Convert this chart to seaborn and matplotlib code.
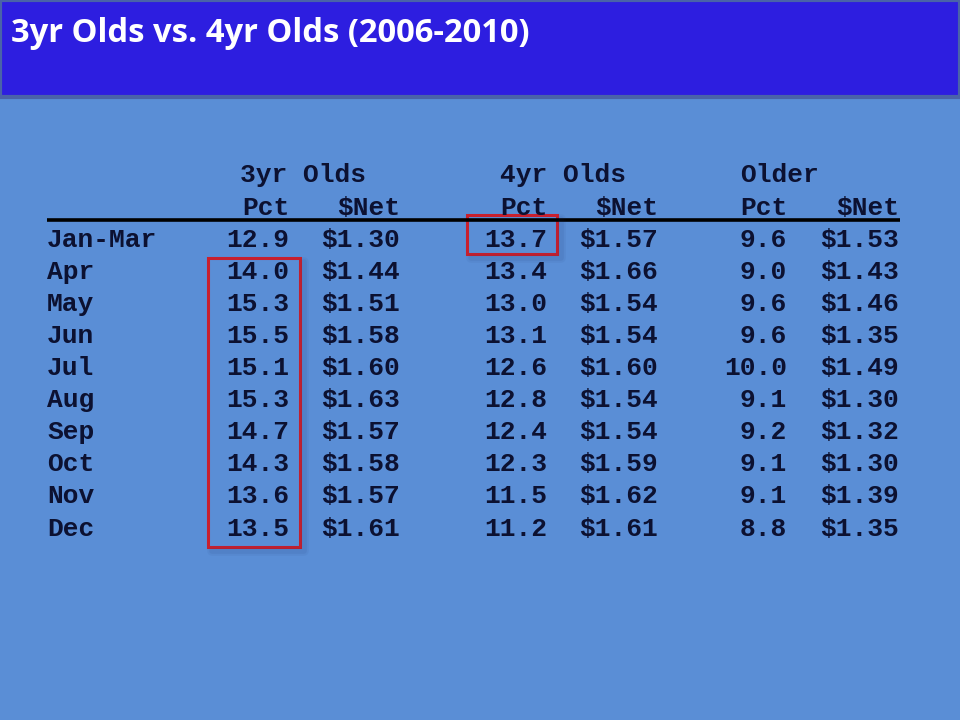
import matplotlib
matplotlib.use("Agg")
import matplotlib.pyplot as plt
from matplotlib.patches import Rectangle
import seaborn as sns
import pandas as pd

# ---- data ----
title = "3yr Olds vs. 4yr Olds (2006-2010)"
months = ["Jan-Mar", "Apr", "May", "Jun", "Jul", "Aug", "Sep", "Oct", "Nov", "Dec"]
groups = ["3yr Olds", "4yr Olds", "Older"]
subheads = ["Pct", "$Net"]
pct_3yr = [12.9, 14.0, 15.3, 15.5, 15.1, 15.3, 14.7, 14.3, 13.6, 13.5]
net_3yr = [1.30, 1.44, 1.51, 1.58, 1.60, 1.63, 1.57, 1.58, 1.57, 1.61]
pct_4yr = [13.7, 13.4, 13.0, 13.1, 12.6, 12.8, 12.4, 12.3, 11.5, 11.2]
net_4yr = [1.57, 1.66, 1.54, 1.54, 1.60, 1.54, 1.54, 1.59, 1.62, 1.61]
pct_older = [9.6, 9.0, 9.6, 9.6, 10.0, 9.1, 9.2, 9.1, 9.1, 8.8]
net_older = [1.53, 1.43, 1.46, 1.35, 1.49, 1.30, 1.32, 1.30, 1.39, 1.35]

df = pd.DataFrame({
    "Month": months,
    "3yr Pct": pct_3yr, "3yr Net": net_3yr,
    "4yr Pct": pct_4yr, "4yr Net": net_4yr,
    "Older Pct": pct_older, "Older Net": net_older,
})

# ---- style ----
sns.set_theme(style="white")
plt.rcParams["font.family"] = ["Liberation Mono", "DejaVu Sans Mono"]

BODY = "#5a8ed6"
BAR = "#2d1ee0"
INK = "#0c1131"
RED = "#c8202e"

fig = plt.figure(figsize=(9.6, 7.2), dpi=100)
fig.patch.set_facecolor(BODY)

# title bar
fig.patches.append(Rectangle((0.0, 1 - 97 / 720), 1.0, 97 / 720, transform=fig.transFigure,
                             facecolor=BAR, edgecolor="#4a63a8", linewidth=3, zorder=0))
fig.text(11 / 960, 1 - 42 / 720, title, color="white", fontsize=23.6, fontweight="bold",
         family=["Open Sans", "DejaVu Sans"], ha="left", va="baseline")

ax = fig.add_axes([0, 0, 1, 1])
ax.set_facecolor("none")
ROW0, ROWH = 239, 32.1
ax.set_xlim(0, 960)
ax.set_ylim((720 - ROW0) / ROWH, (0 - ROW0) / ROWH)
ax.axis("off")

FS = 18.9
base = 7.6 / ROWH  # baseline offset below visual centre

col_keys = ["3yr Pct", "3yr Net", "4yr Pct", "4yr Net", "Older Pct", "Older Net"]
col_right = [289, 400, 547, 658, 787, 899]
group_left = [240, 500, 740]
month_x = 47

# group headers and sub headers
for g, gx in zip(groups, group_left):
    ax.text(gx, -2.0 + base, g, fontsize=FS, fontweight="bold", color=INK,
            ha="left", va="baseline", parse_math=False)
for j, xr in enumerate(col_right):
    ax.text(xr, -1.0 + base, subheads[j % 2], fontsize=FS, fontweight="bold", color=INK,
            ha="right", va="baseline", parse_math=False)

ax.plot([47, 900], [(220 - ROW0) / ROWH] * 2, color="black", lw=2.6, solid_capstyle="butt")

# body rows
for i, row in df.iterrows():
    ax.text(month_x, i + base, row["Month"], fontsize=FS, fontweight="bold", color=INK,
            ha="left", va="baseline", parse_math=False)
    for key, xr in zip(col_keys, col_right):
        v = row[key]
        s = f"{v:.1f}" if "Pct" in key else f"${v:.2f}"
        ax.text(xr, i + base, s, fontsize=FS, fontweight="bold", color=INK,
                ha="right", va="baseline", parse_math=False)

# highlight boxes (with faint shadow on right and bottom)
def box(x0, x1, r0, r1):
    off = 4 / ROWH
    for lw, a in [(7, 0.05), (4, 0.07)]:
        ax.plot([x1 + 4, x1 + 4, x0 + 4], [r0 + off, r1 + off, r1 + off],
                color="#1a2a60", alpha=a, lw=lw, solid_joinstyle="round")
    ax.add_patch(Rectangle((x0, r0), x1 - x0, r1 - r0, fill=False, edgecolor=RED, lw=2.2))

box(208, 300, (258 - ROW0) / ROWH, (547 - ROW0) / ROWH)
box(467, 557, (215 - ROW0) / ROWH, (254 - ROW0) / ROWH)

fig.savefig("out.png", dpi=100, facecolor=fig.get_facecolor())
